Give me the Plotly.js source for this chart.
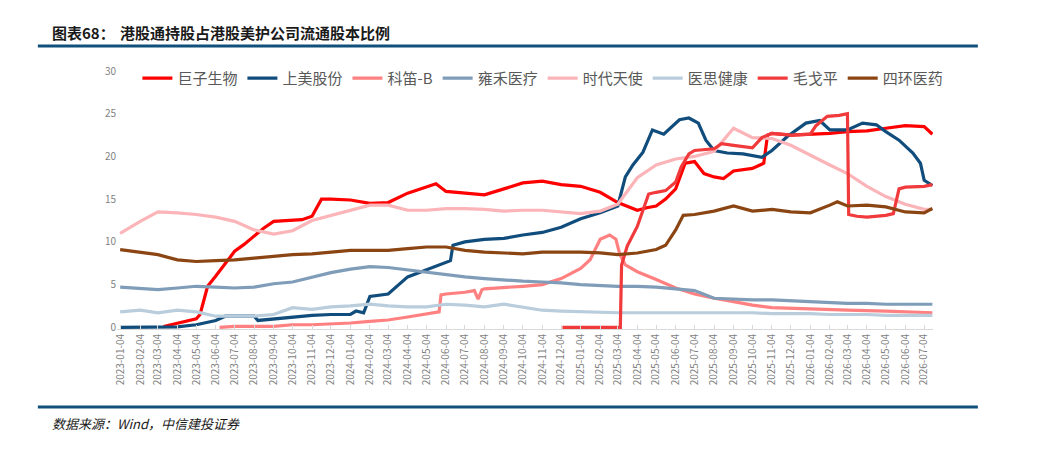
<!DOCTYPE html>
<html>
<head>
<meta charset="utf-8">
<script src="https://cdn.plot.ly/plotly-3.0.1.min.js"></script>
<style>
  html, body { margin: 0; padding: 0; background: #fff; }
  #chart { width: 1044px; height: 454px; }
</style>
</head>
<body>
<div id="chart"></div>
<script>
// monthly dates shared by the smoother series
var months = ['2023-01-03','2023-02-04','2023-03-04','2023-04-04','2023-05-04','2023-06-04','2023-07-04','2023-08-04','2023-09-04','2023-10-04','2023-11-04','2023-12-04',
  '2024-01-04','2024-02-04','2024-03-04','2024-04-04','2024-05-04','2024-06-04','2024-07-04','2024-08-04','2024-09-04','2024-10-04','2024-11-04','2024-12-04',
  '2025-01-04','2025-02-04','2025-03-04','2025-04-04','2025-05-04','2025-06-04','2025-07-04','2025-08-04','2025-09-04','2025-10-04','2025-11-04','2025-12-04',
  '2026-01-04','2026-02-04','2026-03-04','2026-04-04','2026-05-04','2026-06-04','2026-07-04','2026-07-17'];

var shidai = [11.0,12.4,13.5,13.4,13.2,12.9,12.4,11.4,10.9,11.3,12.5,13.1,13.7,14.3,14.3,13.7,13.7,13.9,13.9,13.8,13.6,13.7,13.7,13.5,
  13.3,13.6,14.4,17.5,19.0,19.7,20.0,20.6,23.3,22.2,22.1,21.3,20.2,19.0,18.0,16.5,15.3,14.4,13.8,13.8];
var yonghe = [4.7,4.5,4.4,4.6,4.8,4.7,4.6,4.7,5.1,5.3,5.9,6.4,6.8,7.1,7.0,6.7,6.4,6.1,5.9,5.7,5.5,5.4,5.3,5.2,
  5.0,4.9,4.8,4.8,4.7,4.5,4.3,3.4,3.3,3.2,3.2,3.1,3.0,2.9,2.8,2.8,2.7,2.7,2.7,2.7];
var yisi = [1.8,2.0,1.7,2.0,1.8,1.3,1.3,1.3,1.5,2.3,2.1,2.4,2.5,2.7,2.5,2.4,2.4,2.7,2.6,2.4,2.7,2.4,2.0,1.9,
  1.8,1.7,1.7,1.7,1.7,1.7,1.7,1.7,1.7,1.7,1.6,1.6,1.6,1.5,1.5,1.5,1.4,1.4,1.4,1.4];

// 巨子生物
var juziDates = ['2023-03-13','2023-04-04','2023-04-19','2023-05-04','2023-05-10','2023-05-22','2023-06-04','2023-06-19','2023-07-04','2023-07-19',
  '2023-08-04','2023-08-19','2023-09-04','2023-10-04','2023-10-19','2023-11-04','2023-11-19','2023-12-04','2024-01-04','2024-02-04',
  '2024-03-04','2024-04-04','2024-05-04','2024-05-19','2024-06-04','2024-07-04','2024-08-04','2024-09-04','2024-10-04','2024-11-04',
  '2024-12-04','2025-01-04','2025-02-04','2025-03-04','2025-04-04','2025-04-19','2025-05-04','2025-05-19','2025-06-04','2025-06-19',
  '2025-07-04','2025-07-19','2025-08-04','2025-08-19','2025-09-04','2025-10-04','2025-10-22','2025-10-28','2025-11-04','2025-12-04',
  '2026-01-04','2026-02-04','2026-03-04','2026-04-04','2026-05-04','2026-06-04','2026-07-04','2026-07-17'];
var juzi = [0.1,0.5,0.8,1.0,1.5,4.8,6.0,7.5,8.9,9.7,10.7,11.6,12.4,12.5,12.6,13.0,15.0,15.0,14.9,14.5,
  14.6,15.7,16.4,16.8,15.9,15.7,15.5,16.2,16.9,17.1,16.7,16.5,15.8,14.6,13.7,14.0,14.2,15.0,16.2,19.2,
  19.4,18.0,17.6,17.4,18.3,18.6,19.2,22.5,22.7,22.5,22.6,22.7,22.9,23.0,23.3,23.6,23.5,22.6];

// 上美股份
var shangmeiDates = ['2023-01-03','2023-04-04','2023-05-04','2023-06-04','2023-06-19','2023-07-04','2023-08-04','2023-08-10','2023-09-04','2023-10-04',
  '2023-11-04','2023-12-04','2024-01-04','2024-01-13','2024-01-25','2024-02-04','2024-03-04','2024-04-04','2024-05-04','2024-06-04',
  '2024-06-11','2024-06-15','2024-07-04','2024-08-04','2024-09-04','2024-10-04','2024-11-04','2024-12-04','2025-01-04','2025-02-04',
  '2025-03-04','2025-03-16','2025-03-28','2025-04-13','2025-04-28','2025-05-16','2025-06-10','2025-06-25','2025-07-10','2025-07-22',
  '2025-08-04','2025-08-25','2025-09-19','2025-10-19','2025-11-04','2025-11-28','2025-12-28','2026-01-19','2026-02-04','2026-03-04',
  '2026-03-28','2026-04-19','2026-05-04','2026-05-25','2026-06-16','2026-06-28','2026-07-04','2026-07-17'];
var shangmei = [0,0.05,0.3,0.8,1.3,1.3,1.3,0.8,1.0,1.2,
  1.4,1.5,1.5,1.9,1.7,3.6,3.9,5.9,6.7,7.6,
  7.8,9.6,10.0,10.3,10.4,10.8,11.1,11.7,12.7,13.4,
  14.2,17.6,19.0,20.5,23.1,22.6,24.3,24.5,23.9,21.9,
  20.7,20.4,20.3,19.9,20.7,22.3,23.9,24.2,23.1,23.1,
  23.9,23.7,22.9,21.9,20.4,19.2,17.2,16.6];

// 科笛-B
var kediDates = ['2023-06-10','2023-07-04','2023-09-04','2023-10-04','2023-11-04','2023-12-04','2024-01-04','2024-02-04','2024-03-04','2024-04-04',
  '2024-05-04','2024-05-24','2024-05-27','2024-06-04','2024-07-04','2024-07-19','2024-07-25','2024-07-31','2024-08-04','2024-09-04',
  '2024-10-04','2024-11-04','2024-12-04','2025-01-04','2025-01-19','2025-02-04','2025-02-19','2025-03-01','2025-03-07','2025-03-16',
  '2025-04-04','2025-05-04','2025-06-04','2025-07-04','2025-08-04','2025-09-04','2025-10-04','2025-11-04','2026-01-04','2026-03-04',
  '2026-05-04','2026-07-04','2026-07-17'];
var kedi = [0,0.1,0.1,0.3,0.3,0.4,0.5,0.7,0.85,1.2,
  1.6,1.8,3.8,3.9,4.1,4.3,3.3,4.4,4.5,4.7,
  4.8,5.0,5.7,6.9,7.9,10.3,10.8,10.3,8.6,7.3,
  6.5,5.6,4.6,3.9,3.4,3.0,2.6,2.3,2.1,2.0,
  1.9,1.7,1.7];

// 毛戈平
var maoDates = ['2024-12-06','2025-03-08','2025-03-10','2025-03-19','2025-04-04','2025-04-13','2025-04-22','2025-05-04','2025-05-19','2025-06-04',
  '2025-06-13','2025-06-25','2025-07-04','2025-08-04','2025-08-16','2025-09-04','2025-10-04','2025-10-19','2025-11-04','2025-12-04',
  '2026-01-04','2026-01-13','2026-01-31','2026-02-19','2026-03-04','2026-03-06','2026-03-19','2026-04-04','2026-05-04','2026-05-16',
  '2026-05-25','2026-06-04','2026-07-04','2026-07-17'];
var mao = [0,0,7.3,9.5,11.8,13.7,15.6,15.8,16.0,17.0,
  18.8,20.3,20.7,20.9,21.5,21.3,21.0,22.2,22.7,22.5,
  22.6,23.6,24.7,24.8,25.0,13.2,13.0,12.9,13.1,13.3,
  16.2,16.4,16.5,16.7];

// 四环医药
var sihuanDates = ['2023-01-03','2023-02-04','2023-03-04','2023-04-04','2023-05-04','2023-06-04','2023-07-04','2023-08-04','2023-09-04','2023-10-04',
  '2023-11-04','2023-12-04','2024-01-04','2024-02-04','2024-03-04','2024-04-04','2024-05-04','2024-06-04','2024-07-04','2024-08-04',
  '2024-09-04','2024-10-04','2024-11-04','2024-12-04','2025-01-04','2025-02-04','2025-03-04','2025-04-04','2025-05-04','2025-05-19',
  '2025-06-04','2025-06-16','2025-07-04','2025-08-04','2025-09-04','2025-10-04','2025-11-04','2025-12-04','2026-01-04','2026-02-04',
  '2026-02-16','2026-03-04','2026-04-04','2026-05-04','2026-06-04','2026-07-04','2026-07-17'];
var sihuan = [9.1,8.8,8.5,7.9,7.7,7.8,7.9,8.1,8.3,8.5,
  8.6,8.8,9.0,9.0,9.0,9.2,9.4,9.4,9.0,8.8,
  8.7,8.6,8.8,8.8,8.8,8.7,8.5,8.7,9.1,9.6,
  11.4,13.1,13.2,13.6,14.2,13.6,13.8,13.5,13.4,14.3,
  14.7,14.2,14.3,14.1,13.5,13.4,13.9];

var names = ['巨子生物','上美股份','科笛-B','雍禾医疗','时代天使','医思健康','毛戈平','四环医药'];
var colors = ['#ff0000','#114d7c','#ff8080','#7f9db8','#fbb4b8','#b9cddc','#f03a3c','#8b4513'];
var xs = [juziDates, shangmeiDates, kediDates, months, months, months, maoDates, sihuanDates];
var ys = [juzi, shangmei, kedi, yonghe, shidai, yisi, mao, sihuan];

var traces = names.map(function (n, i) {
  return {
    x: xs[i], y: ys[i], name: n, type: 'scatter', mode: 'lines',
    line: { color: colors[i], width: 3.2 }
  };
});

var ruleColor = '#11507a';
var cjk = '"Noto Sans CJK SC", "Noto Sans", sans-serif';

var layout = {
  width: 1044, height: 454,
  margin: { l: 117, r: 111, t: 71, b: 125 },
  paper_bgcolor: '#fff', plot_bgcolor: '#fff',
  showlegend: true,
  legend: {
    orientation: 'h', x: 0.025, y: 1.035, yanchor: 'top', xanchor: 'left',
    font: { family: cjk, size: 15, color: '#595959' },
    bgcolor: 'rgba(0,0,0,0)', itemwidth: 30, tracegroupgap: 0
  },
  xaxis: {
    type: 'date',
    range: ['2022-12-29', '2026-07-18'],
    tickmode: 'linear', tick0: '2023-01-04', dtick: 'M1',
    tickformat: '%Y-%m-%d', tickangle: -90,
    tickfont: { family: cjk, size: 10, color: '#7f7f7f' },
    showline: true, linecolor: '#d9d9d9', linewidth: 1,
    ticks: 'inside', ticklen: 4, tickcolor: '#d9d9d9',
    showgrid: false, zeroline: false, fixedrange: true
  },
  yaxis: {
    range: [-0.2, 30],
    tickmode: 'array', tickvals: [0, 5, 10, 15, 20, 25, 30],
    tickfont: { family: cjk, size: 10, color: '#7f7f7f' },
    showline: false, showgrid: false, zeroline: false, ticks: '', fixedrange: true
  },
  shapes: [
    { type: 'line', xref: 'paper', yref: 'paper', x0: -0.097, x1: 1.055, y0: 1.097, y1: 1.097,
      line: { color: ruleColor, width: 3 } },
    { type: 'line', xref: 'paper', yref: 'paper', x0: -0.097, x1: 1.055, y0: -0.302, y1: -0.302,
      line: { color: ruleColor, width: 3 } }
  ],
  annotations: [
    { xref: 'paper', yref: 'paper', x: -0.082, y: 1.151, xanchor: 'left', yanchor: 'middle', showarrow: false,
      text: '<b>图表68：</b>', font: { family: cjk, size: 15, color: '#1a1a1a' } },
    { xref: 'paper', yref: 'paper', x: 0.001, y: 1.151, xanchor: 'left', yanchor: 'middle', showarrow: false,
      text: '<b>港股通持股占港股美护公司流通股本比例</b>', font: { family: cjk, size: 15, color: '#1a1a1a' } },
    { xref: 'paper', yref: 'paper', x: -0.082, y: -0.368, xanchor: 'left', yanchor: 'middle', showarrow: false,
      text: '<i>数据来源：Wind，中信建投证券</i>', font: { family: cjk, size: 13, color: '#1a1a1a' } }
  ]
};

Plotly.newPlot('chart', traces, layout, { displayModeBar: false, staticPlot: true });
</script>
</body>
</html>
